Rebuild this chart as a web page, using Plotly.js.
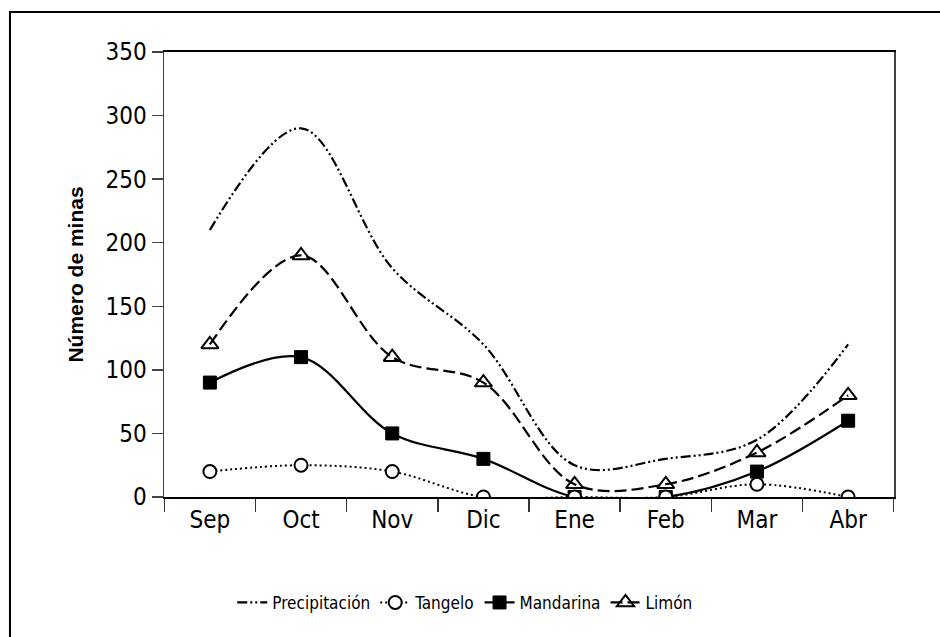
<!DOCTYPE html>
<html>
<head>
<meta charset="utf-8">
<script src="https://cdn.plot.ly/plotly-3.0.1.min.js"></script>
<style>
  html, body { margin: 0; padding: 0; background: #fff; }
  #chart { width: 940px; height: 637px; }
</style>
</head>
<body>
<div id="chart"></div>
<script>
const months = ["Sep", "Oct", "Nov", "Dic", "Ene", "Feb", "Mar", "Abr"];
const precipitacion = [210, 290, 180, 120, 25, 30, 45, 120];
const tangelo = [20, 25, 20, 0, 0, 0, 10, 0];
const mandarina = [90, 110, 50, 30, 0, 0, 20, 60];
const limon = [120, 190, 110, 90, 10, 10, 35, 80];
const yTicks = [0, 50, 100, 150, 200, 250, 300, 350];

const NARROW = "Liberation Sans Narrow, DejaVu Sans Condensed, sans-serif";

const traces = [
  {
    x: months, y: precipitacion, name: "Precipitación", type: "scatter", mode: "lines",
    line: { color: "#000", width: 2.2, shape: "spline", smoothing: 1, dash: "10px,3px,2px,3px,2px,3px" },
    legendrank: 1
  },
  {
    x: months, y: mandarina, name: "Mandarina", type: "scatter", mode: "lines+markers",
    line: { color: "#000", width: 2.2, shape: "spline", smoothing: 1 },
    marker: { symbol: "square", size: 13, color: "#000", line: { color: "#000", width: 1 } },
    legendrank: 3
  },
  {
    x: months, y: limon, name: "Limón", type: "scatter", mode: "lines+markers",
    line: { color: "#000", width: 2.2, shape: "spline", smoothing: 1, dash: "12px,5px" },
    marker: { symbol: "triangle-up-open", size: 15, color: "#000", line: { color: "#000", width: 2 } },
    legendrank: 4
  },
  {
    x: months, y: tangelo, name: "Tangelo", type: "scatter", mode: "lines+markers",
    line: { color: "#000", width: 2, shape: "spline", smoothing: 1, dash: "2px,3px" },
    marker: { symbol: "circle", size: 13, color: "#fff", line: { color: "#000", width: 2 } },
    legendrank: 2
  }
];

const layout = {
  width: 940, height: 637,
  margin: { l: 164, r: 46, t: 52, b: 140 },
  paper_bgcolor: "#fff", plot_bgcolor: "#fff",
  showlegend: true,
  legend: {
    orientation: "h", x: 0.412, xanchor: "center", y: -0.238, yanchor: "middle",
    font: { family: NARROW, size: 17, color: "#000" },
    traceorder: "normal", itemwidth: 30
  },
  xaxis: {
    type: "category", categoryorder: "array", categoryarray: months,
    showline: true, linecolor: "#000", linewidth: 2, mirror: true,
    ticks: "outside", tickson: "boundaries", ticklen: 13, tickwidth: 1.5, tickcolor: "#333",
    showgrid: false, zeroline: false,
    tickfont: { family: NARROW, size: 24, color: "#000" }
  },
  yaxis: {
    range: [0, 350], tickvals: yTicks,
    showline: true, linecolor: "#444", linewidth: 1.5, mirror: true,
    ticks: "outside", ticklen: 11, tickwidth: 1.5, tickcolor: "#444",
    showgrid: false, zeroline: false,
    tickfont: { family: NARROW, size: 24, color: "#000" },
    title: { text: "Número de minas", standoff: 16,
      font: { family: "Liberation Sans, Arial, sans-serif", size: 21, color: "#000", weight: "bold" } }
  },
  shapes: [
    { type: "rect", xref: "paper", yref: "paper", x0: -0.211, x1: 2, y0: -1, y1: 1.0899,
      line: { color: "#000", width: 2 }, fillcolor: "rgba(0,0,0,0)", layer: "below" }
  ]
};

Plotly.newPlot("chart", traces, layout, { staticPlot: true, displayModeBar: false });
</script>
</body>
</html>
